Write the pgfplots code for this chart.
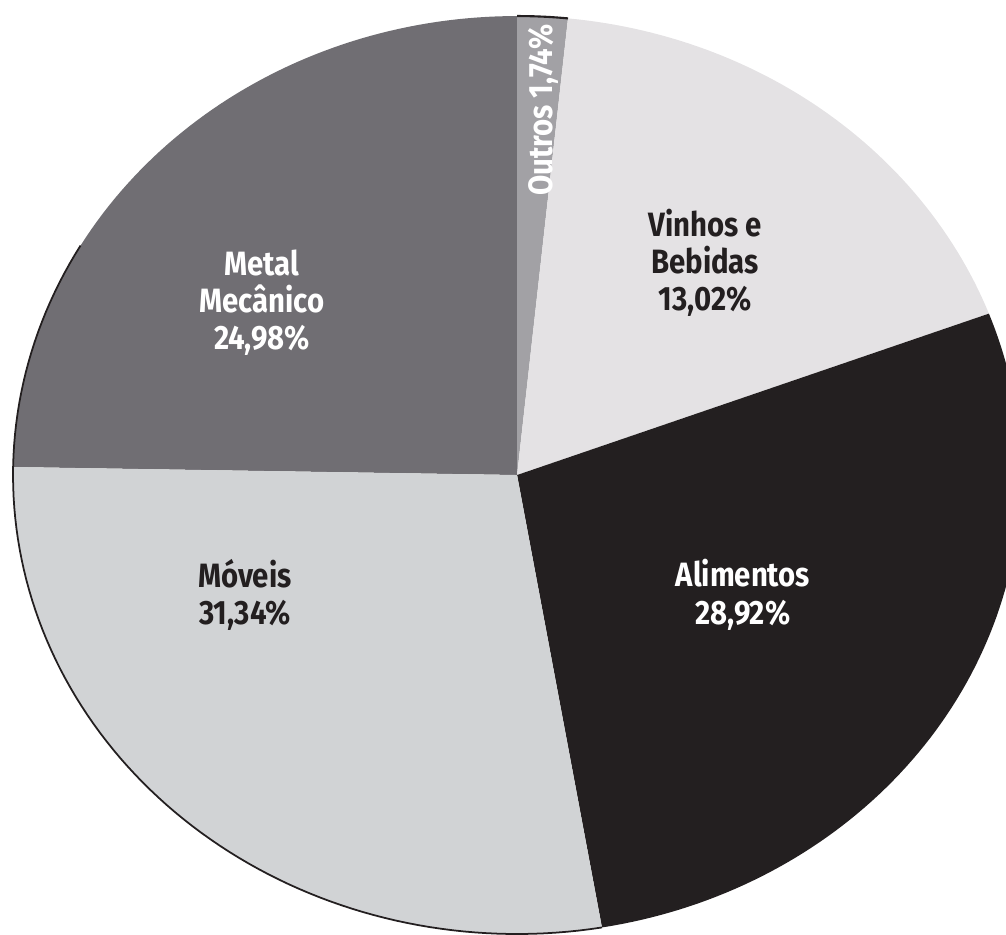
\documentclass[border=0pt]{standalone}
\usepackage{fontspec}
\setmainfont{Fira Sans}[FakeStretch=0.87]
\usepackage{pgfplots}
\pgfplotsset{compat=1.18}
\definecolor{cMetal}{HTML}{706E73}
\definecolor{cOutros}{HTML}{A2A1A5}
\definecolor{cVinhos}{HTML}{E4E2E4}
\definecolor{cAlim}{HTML}{231F20}
\definecolor{cMoveis}{HTML}{D1D3D5}
\definecolor{cText}{HTML}{231F20}
\tikzset{lbl/.style={font=\fontsize{9.6}{10.6}\selectfont\bfseries, align=center, inner sep=0pt}}
\begin{document}
\begin{tikzpicture}
\begin{axis}[
  width=10.06cm, height=9.34cm, scale only axis,
  xmin=-1.0258, xmax=0.970, ymin=-1.0, ymax=1.0349,
  hide axis, clip=true,
]
% slices: parametric angles (deg)
% Metal Mecanico 24.98%
\addplot[fill=cMetal, draw=none, domain=90:179, samples=80] ({cos(x)},{sin(x)}) -- (axis cs:0,0) -- cycle;
% Outros 1.74%
\addplot[fill=cOutros, draw=none, domain=84.2:90, samples=10] ({cos(x)},{sin(x)}) -- (axis cs:0,0) -- cycle;
% Vinhos e Bebidas 13.02%
\addplot[fill=cVinhos, draw=none, domain=20.6:84.2, samples=60] ({cos(x)},{sin(x)}) -- (axis cs:0,0) -- cycle;
% Alimentos 28.92%
\addplot[fill=cAlim, draw=none, domain=-80.3:20.6, samples=90] ({cos(x)},{sin(x)}) -- (axis cs:0,0) -- cycle;
% Moveis 31.34%
\addplot[fill=cMoveis, draw=none, domain=179:279.7, samples=90] ({cos(x)},{sin(x)}) -- (axis cs:0,0) -- cycle;
% outline (left and lower arcs, top of Outros)
\addplot[draw=cAlim, line width=0.5pt, domain=150:279.7, samples=100] ({cos(x)},{sin(x)});
\addplot[draw=cAlim, line width=0.6pt, domain=84.2:90, samples=10] ({cos(x)},{sin(x)});

\node[lbl, text=white] at (axis cs:-0.506,0.375) {Metal\\Mecânico\\24,98\%};
\node[lbl, text=cText] at (axis cs:0.373,0.462) {Vinhos e\\Bebidas\\13,02\%};
\node[lbl, text=white] at (axis cs:0.448,-0.261) {Alimentos\\28,92\%};
\node[lbl, text=cText] at (axis cs:-0.540,-0.261) {Móveis\\31,34\%};
\node[lbl, text=white, rotate=90] at (axis cs:0.052,0.795) {Outros 1,74\%};
\end{axis}
\pgfresetboundingbox
\path (current axis.south west) rectangle (current axis.north east);
\end{tikzpicture}
\end{document}
